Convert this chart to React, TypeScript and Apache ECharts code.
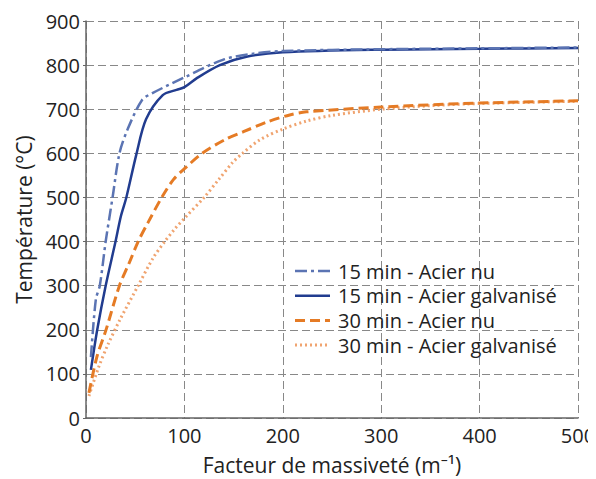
import React, { useEffect, useRef } from "react";
import * as echarts from "echarts";

const xTicks = [0, 100, 200, 300, 400, 500];
const yTicks = [0, 100, 200, 300, 400, 500, 600, 700, 800, 900];

const seriesNames = [
  "15 min - Acier nu",
  "15 min - Acier galvanisé",
  "30 min - Acier nu",
  "30 min - Acier galvanisé",
];

const nu15X = [5, 10, 14, 20, 27, 34, 42, 57, 68, 99, 139, 170, 200, 300, 400, 500];
const nu15Y = [138, 269, 300, 400, 500, 600, 653, 721, 737, 771, 812, 826, 832, 836, 838, 840];

const galv15X = [5, 11.5, 20, 30, 35.5, 41, 51, 61, 78, 92, 100, 113, 136, 163, 200, 300, 400, 500];
const galv15Y = [109, 201, 300, 400, 458, 500, 596, 677, 732, 744, 750, 771, 800, 819, 829, 835, 837, 839];

const nu30X = [3, 11, 20.5, 34, 44, 53, 63, 77, 89, 101, 118, 142, 160, 184, 207, 224, 300, 400, 500];
const nu30Y = [57, 138, 201, 300, 352, 400, 443, 500, 541, 567, 600, 632, 649, 671, 687, 694, 705, 714, 719];

const galv30X = [3, 13, 22, 35, 53, 68, 80, 90, 101, 120, 135, 149, 159, 177, 200, 224, 250, 300, 350, 400, 500];
const galv30Y = [50, 116, 165, 225, 300, 362, 400, 428, 455, 500, 541, 579, 600, 631, 655, 673, 686, 700, 708, 713, 718];

const colors = ["#5b74b3", "#213c8f", "#e57b25", "#f0a470"];
const lineTypes: any[] = [[12, 4, 3, 4], "solid", [10, 5], [2, 3]];
const widths = [2.5, 2.5, 3, 3];

const zip = (xs: number[], ys: number[]) => xs.map((x, i) => [x, ys[i]]);

export default function App() {
  const ref = useRef<HTMLDivElement>(null);
  useEffect(() => {
    if (!ref.current) return;
    const chart = echarts.init(ref.current, null, { renderer: "svg" });
    const font = "'Open Sans', 'Noto Sans', sans-serif";
    const datasets = [zip(nu15X, nu15Y), zip(galv15X, galv15Y), zip(nu30X, nu30Y), zip(galv30X, galv30Y)];
    const legendX = 287;
    const legendY0 = 263;
    const legendStep = 24.7;
    const legendGraphics: any[] = [];
    seriesNames.forEach((n, i) => {
      const y = legendY0 + i * legendStep;
      legendGraphics.push({
        type: "line",
        shape: { x1: legendX, y1: y, x2: legendX + 35, y2: y },
        style: {
          stroke: colors[i],
          lineWidth: widths[i],
          lineDash: lineTypes[i] === "solid" ? null : lineTypes[i],
        },
        z: 10,
      });
      legendGraphics.push({
        type: "text",
        x: legendX + 43,
        y: y,
        style: {
          text: n,
          fontSize: 20,
          lineHeight: 22,
          fontFamily: font,
          fill: "#222",
          verticalAlign: "middle",
          align: "left",
        },
        z: 10,
      });
    });
    chart.setOption({
      animation: false,
      textStyle: { fontFamily: font },
      grid: { left: 78, right: 18, top: 13, bottom: 61, containLabel: false, outerBoundsMode: "none" },
      graphic: legendGraphics,
      xAxis: {
        type: "value",
        min: 0,
        max: 500,
        interval: 100,
        name: "Facteur de massiveté (m⁻¹)",
        nameLocation: "middle",
        nameGap: 36,
        nameTextStyle: { fontSize: 21, color: "#222" },
        axisLine: { show: true, lineStyle: { color: "#666", width: 1.5 } },
        axisTick: { show: false },
        axisLabel: { fontSize: 20, color: "#222", margin: 7 },
        splitLine: { show: true, lineStyle: { color: "#888", type: [8, 4], width: 1 } },
      },
      yAxis: {
        type: "value",
        min: 0,
        max: 900,
        interval: 100,
        name: "Température (°C)",
        nameLocation: "middle",
        nameGap: 52,
        nameTextStyle: { fontSize: 21, color: "#222" },
        axisLine: { show: true, lineStyle: { color: "#666", width: 1.5 } },
        axisTick: { show: true, length: 3, lineStyle: { color: "#666" } },
        axisLabel: { fontSize: 20, color: "#222", margin: 6 },
        splitLine: { show: true, lineStyle: { color: "#888", type: [8, 4], width: 1 } },
      },
      series: datasets.map((d, i) => ({
        name: seriesNames[i],
        type: "line",
        data: d,
        smooth: 0.3,
        showSymbol: false,
        symbol: "none",
        lineStyle: { color: colors[i], width: widths[i], type: lineTypes[i] },
        itemStyle: { color: colors[i] },
        z: 4 - i,
      })),
    });
    return () => chart.dispose();
  }, []);
  return <div ref={ref} style={{ width: 588, height: 471 }} />;
}
